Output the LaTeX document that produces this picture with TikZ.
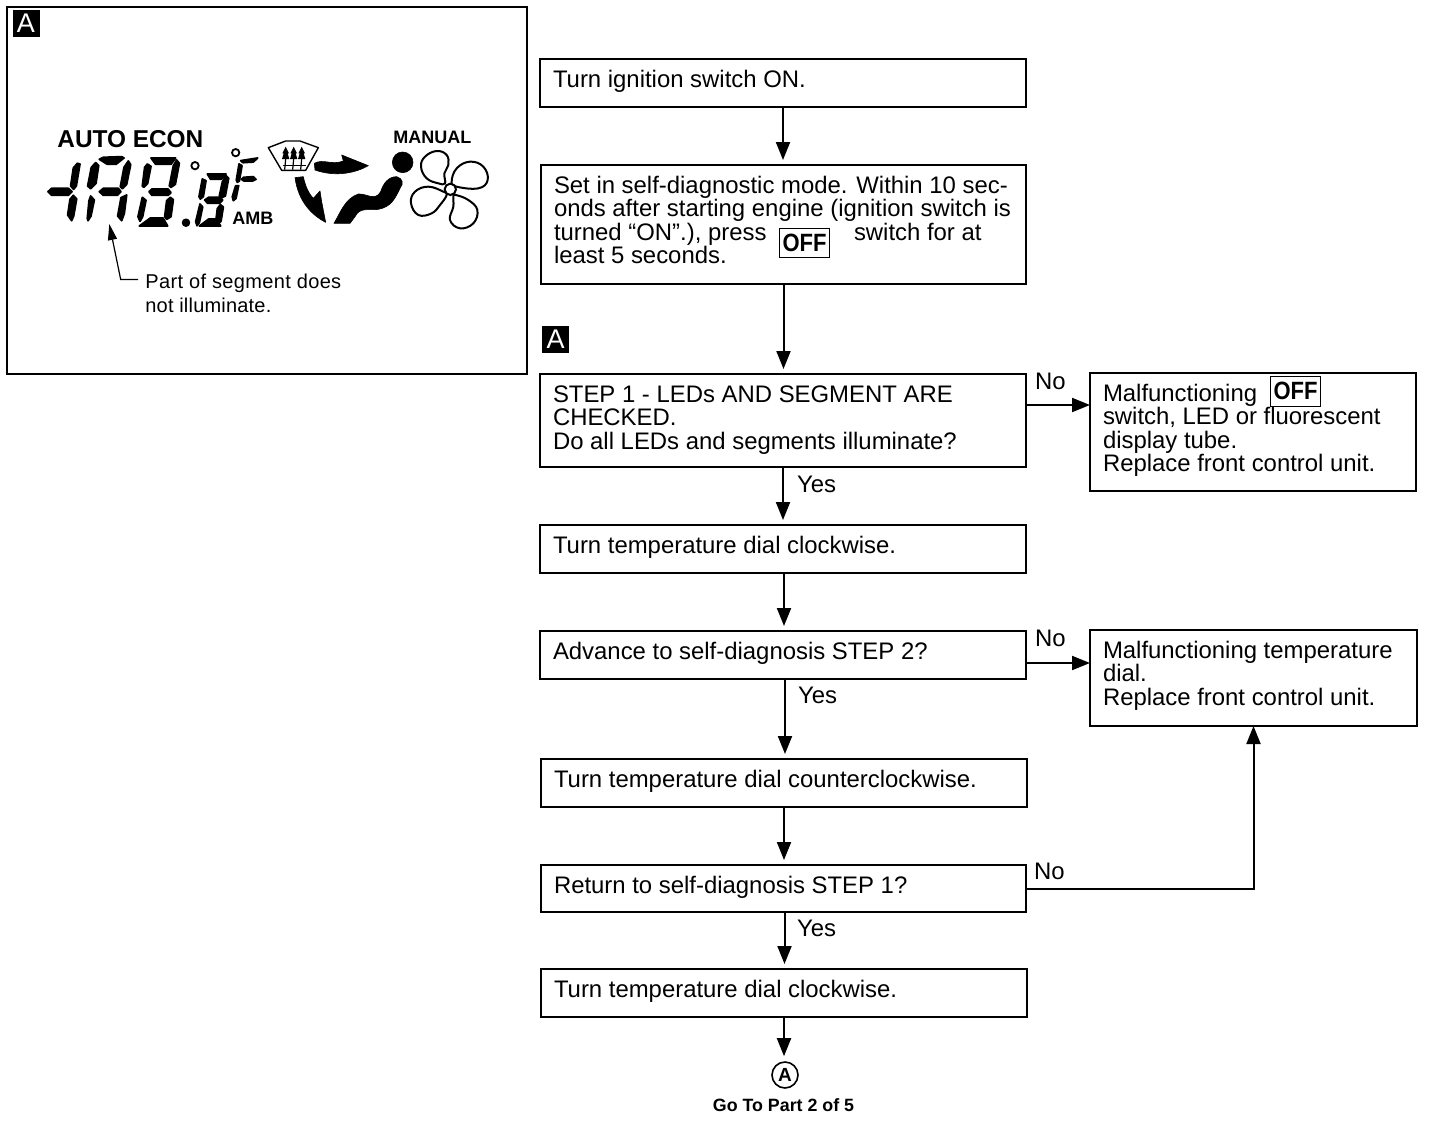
\documentclass[tikz,border=0pt]{standalone}
\usepackage{fontspec}
\setmainfont{Liberation Sans}
\usetikzlibrary{arrows.meta,calc}
\tikzset{
  flowline/.style={-{Triangle[width=7pt,length=9pt]},line width=1pt,shorten >=2.5pt},
  frame/.style={draw=black,line width=1pt,inner sep=0pt,outer sep=0pt,fill=white},
  lbl/.style={anchor=base west,inner sep=0pt,outer sep=0pt,font=\fontsize{11.95}{11.75}\selectfont},
  tag/.style={fill=black,text=white,inner sep=0pt,minimum width=13.5pt,minimum height=13.5pt,font=\fontsize{13.5}{13.5}\selectfont},
  offkey/.style={draw=black,line width=.35pt,inner sep=0pt,font=\fontsize{12.5}{12.5}\selectfont\bfseries},
  seg/.style={fill=black,draw=black,line width=.9pt,line join=round},
  solidshape/.style={fill=black,draw=black,line width=.3pt,line join=round},
  fanline/.style={draw=black,line width=1pt,fill=white}
}
\newcommand\flowbox[6]{%
  \pgfmathsetlengthmacro\boxw{(#4-#2)*0.5pt}%
  \pgfmathsetlengthmacro\boxh{(#5-#3)*0.5pt}%
  \node[frame,font=\fontsize{11.95}{11.75}\selectfont] (#1) at ({(#2+#4)/2},{(#3+#5)/2})
    {\parbox[c][\boxh][t]{\boxw}{\lineskiplimit=-6pt\raggedright\leftskip=6.5pt\rightskip=0pt plus 1fil\rule{0pt}{14pt}#6}};%
}
\newcommand\keyoff{\scalebox{.88}[1]{OFF}}
\begin{document}
\begin{tikzpicture}[x=0.5pt,y=-0.5pt]
\useasboundingbox[fill=white] (0,0) rectangle (1440,1124);

% left panel
\node[frame,minimum width=260pt,minimum height=183.5pt] (panel) at (267,190.5) {};
\node[tag] (tagleft) at (26,23.5) {A};
\node[anchor=base west,inner sep=0pt,font=\fontsize{12.2}{12.2}\selectfont\bfseries] (auto) at (57,147) {AUTO ECON};
\node[anchor=base west,inner sep=0pt,font=\fontsize{9}{9}\selectfont\bfseries] (manual) at (393,143) {MANUAL};
\node[anchor=base west,inner sep=0pt,font=\fontsize{9}{9}\selectfont\bfseries] (amb) at (232,224) {AMB};
\node[anchor=base west,inner sep=0pt,font=\fontsize{10}{10}\selectfont] (partA) at (145,288) {\addfontfeature{LetterSpace=1.8}Part of segment does};
\node[anchor=base west,inner sep=0pt,font=\fontsize{10}{10}\selectfont] (partB) at (145,312) {\addfontfeature{LetterSpace=1}not illuminate.};

% leader
\coordinate (leadtip) at (109.3,224);
\coordinate (leadbend) at (120.7,279.5);
\coordinate (leadend) at (138,279.5);
\draw[line width=.6pt,-{Triangle[width=4.5pt,length=8pt]}] (leadend) -- (leadbend) -- (leadtip);

% LCD digits, first part (zoom origin 40,150)
\begin{scope}[shift={(40,150)},x=.16667pt,y=-.16667pt]
\fill[seg] (24,125)--(35,115)--(85,115)--(96,125)--(85,136)--(35,136)--cycle;
\fill[seg] (112,40)--(120,42)--(109,108)--(101,118)--(92,108)--(100,54)--cycle;
\fill[seg] (90,148)--(100,136)--(110,147)--(101,198)--(95,212)--(83,195)--cycle;
\fill[seg] (178,28)--(190,22)--(245,20)--(252,24)--(228,43)--(202,43)--cycle;
\fill[seg] (167,38)--(176,47)--(168,100)--(152,116)--(143,108)--(154,52)--cycle;
\fill[seg] (265,33)--(272,44)--(260,103)--(247,116)--(241,110)--(252,52)--cycle;
\fill[seg] (178,125)--(190,115)--(235,115)--(243,125)--(232,136)--(190,136)--cycle;
\fill[seg] (152,138)--(163,150)--(153,198)--(144,212)--(142,205)--(147,152)--cycle;
\fill[seg] (243,143)--(260,135)--(253,190)--(245,212)--(233,198)--cycle;
\end{scope}
% LCD digits, second part (zoom origin 0,0)
\begin{scope}[x=.16667pt,y=-.16667pt]
\fill[seg] (453,474)--(527,474)--(513,493)--(467,493)--cycle;
\fill[seg] (442,492)--(453,499)--(443,550)--(431,562)--(427,558)--(434,502)--cycle;
\fill[seg] (530,480)--(538,490)--(526,553)--(513,562)--(508,558)--(520,497)--cycle;
\fill[seg] (447,575)--(456,567)--(504,567)--(513,578)--(504,586)--(456,586)--cycle;
\fill[seg] (427,592)--(438,601)--(428,650)--(420,664)--(414,650)--cycle;
\fill[seg] (511,592)--(520,599)--(513,650)--(500,658)--(494,650)--(500,602)--cycle;
\fill[seg] (418,678)--(451,654)--(489,654)--(503,678)--cycle;
\fill[seg] (558,668) circle (10);
\draw[line width=.9pt] (585,497) circle (11);
\fill[seg] (622,522)--(678,522)--(664,538)--(632,538)--cycle;
\fill[seg] (607,537)--(618,542)--(610,590)--(601,597)--(597,590)--cycle;
\fill[seg] (678,527)--(686,535)--(676,588)--(665,593)--(658,588)--(667,546)--cycle;
\fill[seg] (614,600)--(626,592)--(660,592)--(668,600)--(659,610)--(623,610)--cycle;
\fill[seg] (600,612)--(608,621)--(598,668)--(591,677)--(587,665)--cycle;
\fill[seg] (661,614)--(670,621)--(663,664)--(651,673)--(647,667)--(652,626)--cycle;
\fill[seg] (598,678)--(626,657)--(649,657)--(662,678)--cycle;
\end{scope}
% degree and F (zoom origin 220,140)
\begin{scope}[shift={(220,140)},x=.16667pt,y=-.16667pt]
\draw[line width=.9pt] (47,38) circle (11);
\fill[seg] (62,62)--(113,54)--(100,66)--(69,68)--cycle;
\fill[seg] (57,72)--(66,77)--(58,123)--(52,127)--(49,120)--cycle;
\fill[seg] (71,112)--(100,110)--(108,118)--(98,123)--(72,123)--(64,118)--cycle;
\fill[seg] (47,137)--(56,137)--(48,175)--(40,182)--(37,170)--cycle;
\end{scope}
% defroster icon and airflow arrows (zoom origin 265,135)
\begin{scope}[shift={(265,135)},x=.16667pt,y=-.16667pt]
\draw[line width=.7pt,line join=round] (10,38)--(62,18)--(105,18)--(160,38)--(122,106)--(50,106)--cycle;
\foreach \ax in {62,86,110}{
  \fill[black] (\ax,35)--(\ax+10,55)--(\ax+6,55)--(\ax+11,72)--(\ax-11,72)--(\ax-6,55)--(\ax-10,55)--cycle;
  \draw[line width=.6pt] (\ax,72)--(\ax-3,104);
}
\draw[line width=.6pt] (55,92)--(122,92);
\fill[solidshape] (148,85)..controls (175,70) and (200,92)..(235,78)--(230,60)--(310,92)..controls (275,112) and (215,128)..(150,105)--cycle;
\fill[solidshape] (90,128)--(115,125)..controls (120,150) and (130,175)..(145,190)--(165,168)--(170,200)--(182,262)..controls (140,240) and (100,200)..(90,128)--cycle;
\end{scope}
% seat occupant (zoom origin 260,110)
\begin{scope}[shift={(260,110)},x=.16667pt,y=-.16667pt]
\fill[solidshape] (428,157) circle (31);
\fill[solidshape] (222,340)..controls (240,310) and (255,265)..(295,252)..controls (320,250) and (345,275)..(362,245)..controls (370,220) and (385,200)..(410,200)..controls (428,205) and (432,220)..(420,235)..controls (405,265) and (395,290)..(355,298)..controls (325,302) and (300,290)..(285,320)--(270,340)--cycle;
\end{scope}
% fan (zoom origin 385,145)
\begin{scope}[shift={(385,145)},x=.16667pt,y=-.16667pt]
\draw[fanline] plot[smooth cycle,tension=.7] coordinates {(180,115)(178,85)(190,60)(185,30)(155,18)(120,35)(108,65)(125,100)(160,115)};
\draw[fanline] plot[smooth cycle,tension=.7] coordinates {(200,110)(215,70)(255,50)(295,65)(308,105)(280,130)(215,125)};
\draw[fanline] plot[smooth cycle,tension=.7] coordinates {(212,150)(250,165)(277,195)(265,235)(225,250)(195,225)(205,185)(205,155)};
\draw[fanline] plot[smooth cycle,tension=.7] coordinates {(175,140)(130,125)(90,140)(78,175)(100,210)(140,205)(165,180)(185,150)};
\draw[fanline] (196,133) circle (17);
\end{scope}

% flow boxes
\flowbox{box1}{540}{59}{1026}{107}{Turn ignition switch ON.}
\flowbox{box2}{541}{165}{1026}{284}{Set in self-diagnostic mode. Within 10 sec-\\onds after starting engine (ignition switch is\\\makebox[150pt][l]{turned “ON”.), press}switch for at\\least 5 seconds.}
\flowbox{box3}{540}{374}{1026}{467}{STEP 1 - LEDs AND SEGMENT ARE\\CHECKED.\\Do all LEDs and segments illuminate?}
\flowbox{box4}{540}{525}{1026}{573}{Turn temperature dial clockwise.}
\flowbox{box5}{540}{631}{1026}{679}{Advance to self-diagnosis STEP 2?}
\flowbox{box6}{541}{759}{1027}{807}{Turn temperature dial counterclockwise.}
\flowbox{box7}{541}{865}{1026}{912}{Return to self-diagnosis STEP 1?}
\flowbox{box8}{541}{969}{1027}{1017}{Turn temperature dial clockwise.}
\flowbox{right1}{1090}{373}{1416}{491}{Malfunctioning\\switch, LED or fluorescent\\display tube.\\Replace front control unit.}
\flowbox{right2}{1090}{630}{1417}{726}{Malfunctioning temperature\\dial.\\Replace front control unit.}

% OFF keys
\node[offkey,minimum width=25pt,minimum height=14.5pt] (offA) at (804.5,242.5) {\keyoff};
\node[offkey,minimum width=25pt,minimum height=15pt] (offB) at (1295.5,391) {\keyoff};

% tag and off-page connector
\node[tag] (tagflow) at (555.5,339) {A};
\node[circle,draw=black,line width=.8pt,minimum size=13pt,inner sep=0pt,font=\fontsize{9.5}{9.5}\selectfont\bfseries] (goA) at (785,1075) {A};
\node[anchor=base,inner sep=0pt,font=\fontsize{8.9}{8.9}\selectfont\bfseries] (goto) at (783.5,1111) {Go To Part 2 of 5};

% connectors
\draw[flowline] (box1.south) -- (box1.south |- box2.north);
\draw[flowline] (box2.south) -- (box2.south |- box3.north);
\draw[flowline] (box3.south) -- (box3.south |- box4.north);
\draw[flowline] ([xshift=.5pt]box4.south) -- ([xshift=.5pt]box4.south |- box5.north);
\draw[flowline] ([xshift=1pt]box5.south) -- ([xshift=1pt]box5.south |- box6.north);
\draw[flowline] (box6.south) -- (box6.south |- box7.north);
\draw[flowline] ([xshift=.5pt]box7.south) -- ([xshift=.5pt]box7.south |- box8.north);
\draw[flowline] (box8.south) -- (box8.south |- goA.north);
\draw[flowline,shorten >=0pt] ([yshift=7.75pt]box3.east) -- ([yshift=7.75pt]box3.east -| right1.west);
\draw[flowline,shorten >=0pt] ([yshift=-4pt]box5.east) -- ([yshift=-4pt]box5.east -| right2.west);
\draw[flowline,shorten >=0pt] (box7.east) -| (right2.south);

% branch labels
\node[lbl] (no1) at (1035,389) {No};
\node[lbl] (yes1) at (797,492) {Yes};
\node[lbl] (no2) at (1035,646) {No};
\node[lbl] (yes2) at (798,703) {Yes};
\node[lbl] (no3) at (1034,879) {No};
\node[lbl] (yes3) at (797,936) {Yes};
\end{tikzpicture}
\end{document}
